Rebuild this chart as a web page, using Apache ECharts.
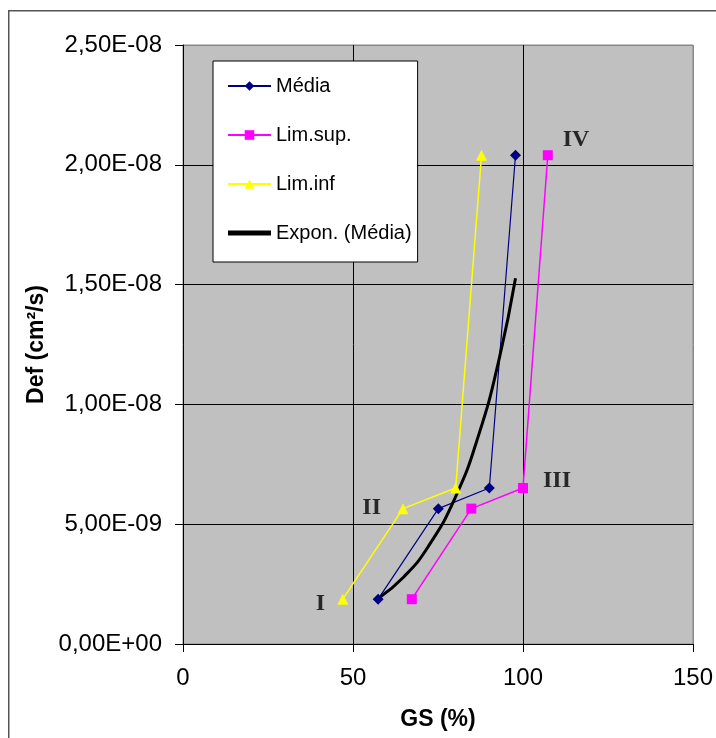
<!DOCTYPE html>
<html>
<head>
<meta charset="utf-8">
<script src="https://cdn.jsdelivr.net/npm/echarts@6/dist/echarts.min.js"></script>
<style>html,body{margin:0;padding:0;background:#fff;}#c{width:716px;height:738px;}</style>
</head>
<body>
<div id="c"></div>
<script>
// Data
var mediaGS = [57.4, 75.1, 90.1, 97.8];
var mediaDef = [1.87e-9, 5.65e-9, 6.51e-9, 2.04e-8];
var supGS = [67.3, 84.8, 100.0, 107.3];
var supDef = [1.87e-9, 5.65e-9, 6.51e-9, 2.04e-8];
var infGS = [47.0, 64.7, 80.2, 87.8];
var infDef = [1.87e-9, 5.65e-9, 6.51e-9, 2.04e-8];
var trendGS = [57.4, 65, 72, 80, 87, 93, 97.8];
var trendDef = [1.90e-9, 2.81e-9, 4.04e-9, 6.09e-9, 8.74e-9, 1.19e-8, 1.526e-8];
var zoneNames = ['I', 'II', 'III', 'IV'];
var zoneGS = [40.4, 55.5, 110.0, 115.6];
var zoneDef = [1.69e-9, 5.69e-9, 6.83e-9, 2.106e-8];
var yTickLabels = ['0,00E+00', '5,00E-09', '1,00E-08', '1,50E-08', '2,00E-08', '2,50E-08'];
var xTickLabels = ['0', '50', '100', '150'];

function pairs(xs, ys) { return xs.map(function (x, i) { return [x, ys[i]]; }); }

var chart = echarts.init(document.getElementById('c'), null, { renderer: 'canvas' });
var font = 'Liberation Sans, Arial, sans-serif';
chart.setOption({
  animation: false,
  graphic: [{
    type: 'rect', left: 8, top: 10, z: -10,
    shape: { width: 720, height: 740 },
    style: { fill: '#fff', stroke: '#555', lineWidth: 1.5 }
  }],
  grid: { left: 183, top: 45, right: 21, bottom: 94, show: true, backgroundColor: '#c0c0c0', borderColor: '#888', borderWidth: 1 },
  legend: {
    orient: 'vertical', left: 213, top: 61,
    data: ['Média', 'Lim.sup.', 'Lim.inf',
      { name: 'Expon. (Média)', icon: 'path://M0,0 L43,0 L43,5 L0,5 Z', itemStyle: { color: '#000' } }],
    backgroundColor: '#fff', borderColor: '#000', borderWidth: 1,
    padding: [15, 6, 19, 14], itemGap: 29, itemWidth: 43, itemHeight: 12,
    textStyle: { fontFamily: font, fontSize: 20, color: '#000', lineHeight: 20 }
  },
  xAxis: {
    type: 'value', min: 0, max: 150, interval: 50,
    name: 'GS (%)', nameLocation: 'middle', nameGap: 64,
    nameTextStyle: { fontFamily: font, fontSize: 23, fontWeight: 'bold', color: '#000' },
    axisLine: { show: true, onZero: false, lineStyle: { color: '#000', width: 1 } },
    axisTick: { show: true, length: 8, lineStyle: { color: '#000' } },
    axisLabel: { fontFamily: font, fontSize: 24, color: '#000', margin: 22,
      formatter: function (v) { return xTickLabels[Math.round(v / 50)]; } },
    splitLine: { show: true, lineStyle: { color: ['#000', '#000', '#000', '#888'], width: 1 } }
  },
  yAxis: {
    type: 'value', min: 0, max: 2.5e-8, interval: 5e-9,
    name: 'Def (cm²/s)', nameLocation: 'middle', nameGap: 134, nameRotate: 90,
    nameTextStyle: { fontFamily: font, fontSize: 23, fontWeight: 'bold', color: '#000' },
    axisLine: { show: true, lineStyle: { color: '#000', width: 1 } },
    axisTick: { show: true, length: 8, lineStyle: { color: '#000' } },
    axisLabel: { fontFamily: font, fontSize: 24, color: '#000', margin: 21,
      formatter: function (v) { return yTickLabels[Math.round(v / 5e-9)]; } },
    splitLine: { show: true, lineStyle: { color: ['#000', '#000', '#000', '#000', '#000', '#888'], width: 1 } }
  },
  series: [
    { name: 'Média', type: 'line', data: pairs(mediaGS, mediaDef), symbol: 'diamond', symbolSize: 11,
      itemStyle: { color: '#000080' }, lineStyle: { color: '#000080', width: 1.2 } },
    { name: 'Lim.sup.', type: 'line', data: pairs(supGS, supDef), symbol: 'rect', symbolSize: 10,
      itemStyle: { color: '#ff00ff' }, lineStyle: { color: '#ff00ff', width: 1.5 } },
    { name: 'Lim.inf', type: 'line', data: pairs(infGS, infDef), symbol: 'triangle', symbolSize: 11,
      itemStyle: { color: '#ffff00' }, lineStyle: { color: '#ffff00', width: 1.5 } },
    { name: 'Expon. (Média)', type: 'line', data: pairs(trendGS, trendDef), smooth: true, showSymbol: false, symbol: 'none',
      itemStyle: { color: '#000' }, lineStyle: { color: '#000', width: 3 } },
    { name: 'zones', type: 'scatter', symbolSize: 0, silent: true,
      data: zoneNames.map(function (n, i) { return { name: n, value: [zoneGS[i], zoneDef[i]] }; }),
      label: { show: true, position: 'inside', formatter: '{b}', color: '#000',
        fontFamily: 'Liberation Serif, Times New Roman, serif', fontWeight: 'bold', fontSize: 24 } }
  ]
});
</script>
</body>
</html>
